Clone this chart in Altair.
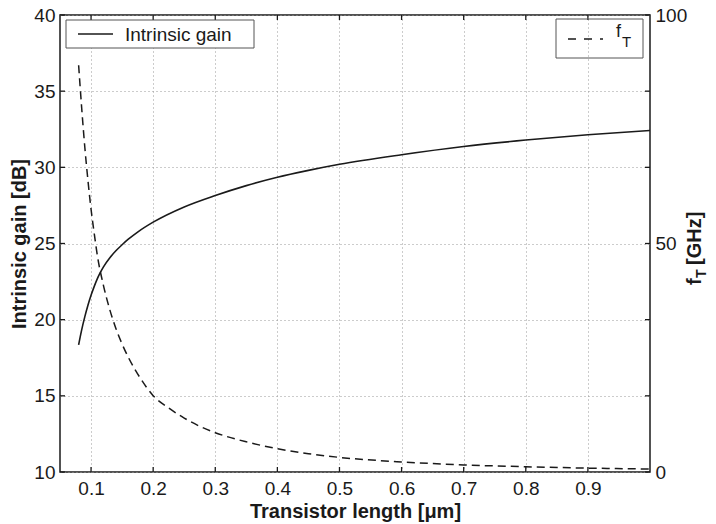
import altair as alt
import pandas as pd

# ---- data ----
gain_L = [0.08, 0.085, 0.09, 0.095, 0.1, 0.105, 0.11, 0.115, 0.12, 0.13, 0.14, 0.15,
          0.16, 0.175, 0.2, 0.25, 0.3, 0.35, 0.4, 0.45, 0.5, 0.6, 0.7, 0.8, 0.9, 1.0]
gain_dB = [18.35, 19.35, 20.2, 20.95, 21.6, 22.17, 22.68, 23.1, 23.47, 24.05, 24.52, 24.92,
           25.28, 25.75, 26.4, 27.4, 28.15, 28.8, 29.35, 29.8, 30.2, 30.83, 31.37, 31.79,
           32.14, 32.42]

ft_L = [0.08, 0.085, 0.09, 0.095, 0.1, 0.105, 0.11, 0.12, 0.13, 0.14, 0.15, 0.16, 0.17,
        0.18, 0.19, 0.2, 0.225, 0.25, 0.275, 0.3, 0.35, 0.4, 0.45, 0.5, 0.6, 0.7, 0.8,
        0.9, 1.0]
ft_GHz = [89, 79.5, 71, 63.8, 57.5, 52.3, 47.5, 40.8, 35.6, 31.4, 28.0, 25.1, 22.6,
          20.4, 18.4, 16.7, 14.0, 11.8, 10.0, 8.6, 6.6, 5.1, 4.0, 3.2, 2.2, 1.55, 1.15,
          0.85, 0.65]

x_ticks = [0.1, 0.2, 0.3, 0.4, 0.5, 0.6, 0.7, 0.8, 0.9]
yl_ticks = [10, 15, 20, 25, 30, 35, 40]
yr_ticks = [0, 50, 100]

W, H = 590, 457
FONT = "Liberation Sans"
INK = "#1a1a1a"

df_gain = pd.DataFrame({"L": gain_L, "G": gain_dB})
df_ft = pd.DataFrame({"L": ft_L, "F": ft_GHz})
df_xt = pd.DataFrame({"L": x_ticks})
df_yt = pd.DataFrame({"G": yl_ticks})
one = pd.DataFrame({"t": ["Intrinsic gain"]})

x_scale = alt.Scale(domain=[0.05, 1.0], nice=False, zero=False)
yl_scale = alt.Scale(domain=[10, 40], nice=False, zero=False)
yr_scale = alt.Scale(domain=[0, 100], nice=False)

x_axis = alt.Axis(values=x_ticks, format=".1f", grid=True, gridDash=[1, 3],
                  gridColor="#999", gridWidth=1, ticks=False, domain=False,
                  labelPadding=7, labelFontSize=19, labelFont=FONT, labelColor=INK,
                  title="Transistor length [μm]", titleFont=FONT, titleFontSize=20,
                  titleFontWeight="bold", titleColor=INK, titleX=W / 2, titleY=45,
                  titleBaseline="alphabetic", titleAlign="center")
x_enc = alt.X("L:Q", scale=x_scale, axis=x_axis)

yl_axis = alt.Axis(values=yl_ticks, grid=True, gridDash=[1, 3], gridColor="#999",
                   gridWidth=1, ticks=False, domain=False, labelPadding=5,
                   labelFontSize=19, labelFont=FONT, labelColor=INK,
                   title="Intrinsic gain [dB]", titleFont=FONT, titleFontSize=20,
                   titleFontWeight="bold", titleColor=INK, titleX=-41, titleY=H / 2,
                   titleBaseline="middle", titleAlign="center", titleAngle=270)

gain = alt.Chart(df_gain).mark_line(color=INK, strokeWidth=1.6, interpolate="monotone").encode(
    x=x_enc, y=alt.Y("G:Q", scale=yl_scale, axis=yl_axis))

tick_style = dict(color=INK, strokeWidth=1.3)
xt_bottom = alt.Chart(df_xt).mark_rule(**tick_style).encode(
    x=x_enc, y=alt.value(H), y2=alt.value(H - 5))
xt_top = alt.Chart(df_xt).mark_rule(**tick_style).encode(
    x=x_enc, y=alt.value(0), y2=alt.value(5))
yt_left = alt.Chart(df_yt).mark_rule(**tick_style).encode(
    y=alt.Y("G:Q", scale=yl_scale, axis=yl_axis), x=alt.value(0), x2=alt.value(5))
yt_right = alt.Chart(df_yt).mark_rule(**tick_style).encode(
    y=alt.Y("G:Q", scale=yl_scale, axis=yl_axis), x=alt.value(W - 5), x2=alt.value(W))

# legend 1 (solid, white box)
leg1_box = alt.Chart(one).mark_rect(fill="white", stroke="#555", strokeWidth=1).encode(
    x=alt.value(6), x2=alt.value(194), y=alt.value(5), y2=alt.value(33))
leg1_line = alt.Chart(one).mark_rule(color=INK, strokeWidth=1.6).encode(
    x=alt.value(18), x2=alt.value(53), y=alt.value(19))
leg1_text = alt.Chart(one).mark_text(align="left", baseline="alphabetic", font=FONT,
                                     fontSize=19, color=INK).encode(
    x=alt.value(65), y=alt.value(26), text="t:N")

# legend 2 (dashed, transparent box)
leg2_box = alt.Chart(one).mark_rect(fill="transparent", stroke="#555", strokeWidth=1).encode(
    x=alt.value(496), x2=alt.value(583), y=alt.value(4), y2=alt.value(43))
leg2_line = alt.Chart(one).mark_rule(color=INK, strokeWidth=1.5, strokeDash=[8, 8]).encode(
    x=alt.value(508), x2=alt.value(543), y=alt.value(24))
leg2_f = alt.Chart(pd.DataFrame({"t": ["f"]})).mark_text(
    align="left", baseline="alphabetic", font=FONT, fontSize=18, color=INK).encode(
    x=alt.value(556), y=alt.value(22), text="t:N")
leg2_T = alt.Chart(pd.DataFrame({"t": ["T"]})).mark_text(
    align="left", baseline="alphabetic", font=FONT, fontSize=15, color=INK).encode(
    x=alt.value(562), y=alt.value(32), text="t:N")

# right axis title f_T [GHz] (rotated)
rt_f = alt.Chart(pd.DataFrame({"t": ["f"]})).mark_text(
    align="left", baseline="alphabetic", angle=270, font=FONT, fontSize=20,
    fontWeight="bold", color=INK).encode(x=alt.value(641), y=alt.value(270), text="t:N")
rt_T = alt.Chart(pd.DataFrame({"t": ["T"]})).mark_text(
    align="left", baseline="alphabetic", angle=270, font=FONT, fontSize=14,
    fontWeight="bold", color=INK).encode(x=alt.value(646), y=alt.value(263), text="t:N")
rt_u = alt.Chart(pd.DataFrame({"t": ["[GHz]"]})).mark_text(
    align="left", baseline="alphabetic", angle=270, font=FONT, fontSize=20,
    fontWeight="bold", color=INK).encode(x=alt.value(641), y=alt.value(250), text="t:N")

left = alt.layer(gain, xt_bottom, xt_top, yt_left, yt_right,
                 leg1_box, leg1_line, leg1_text, leg2_box, leg2_line, leg2_f, leg2_T,
                 rt_f, rt_T, rt_u)

yr_axis = alt.Axis(orient="right", values=yr_ticks, grid=False, ticks=False, domain=False,
                   labelPadding=5, labelFontSize=19, labelFont=FONT, labelColor=INK,
                   title=None)
ft = alt.Chart(df_ft).mark_line(color=INK, strokeWidth=1.5, strokeDash=[8, 5],
                                interpolate="monotone").encode(
    x=x_enc, y=alt.Y("F:Q", scale=yr_scale, axis=yr_axis))

chart = alt.layer(left, ft).resolve_scale(y="independent").properties(
    width=W, height=H,
    autosize=alt.AutoSizeParams(type="none"),
    padding={"left": 52, "top": 7, "right": 58, "bottom": 56},
    background="white",
).configure_view(stroke=INK, strokeWidth=1.5)

chart.save("out.html", embed_options={"renderer": "svg", "actions": False})
